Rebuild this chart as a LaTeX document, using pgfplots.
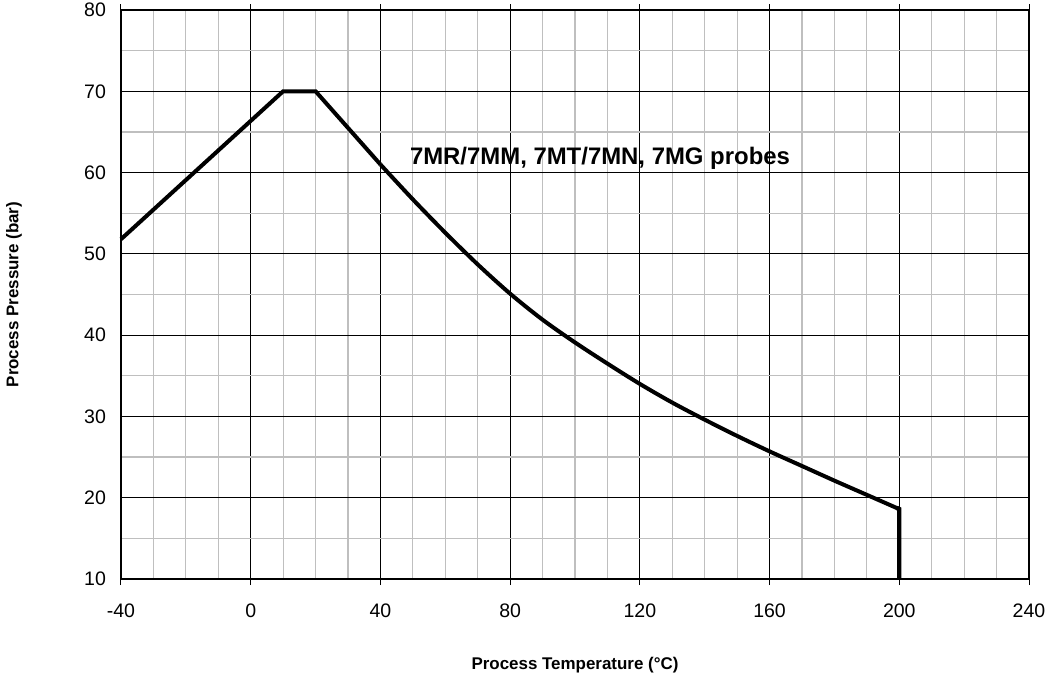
\documentclass[border=0pt]{standalone}
\usepackage{fontspec}
\setmainfont{Liberation Sans}
\usepackage{pgfplots}
\pgfplotsset{compat=1.18}
\begin{document}
\begin{tikzpicture}
\useasboundingbox (-60.5bp,-50.5bp) rectangle (462bp,289.5bp);
\begin{axis}[
  at={(0,0)}, anchor=south west,
  scale only axis,
  width=454bp, height=284.5bp,
  xmin=-40, xmax=240, ymin=10, ymax=80,
  xtick={-40,0,...,240}, ytick={10,20,...,80},
  minor x tick num=3, minor y tick num=1,
  grid=both,
  major grid style={black, line width=0.5bp},
  minor grid style={gray!50, line width=0.6bp},
  axis line style={black, line width=0.6bp},
  tick align=outside, major tick length=3bp,
  minor tick length=0pt,
  ytick style={draw=none},
  xtick style={black, line width=0.5bp},
  tick label style={font=\fontsize{9.8}{11}\selectfont},
  /pgf/number format/assume math mode=true,
  xticklabel style={yshift=-6bp},
  yticklabel style={xshift=-1bp},
  xlabel={\bfseries Process Temperature (°C)},
  ylabel={\bfseries Process Pressure (bar)},
  label style={font=\fontsize{8.5}{10}\selectfont},
  xlabel style={at={(axis description cs:0.5,-0.151)}, anchor=center},
  ylabel style={at={(axis description cs:-0.1178,0.5)}, anchor=center},
  clip=false,
]
\addplot[black, line width=2bp, line join=miter] coordinates {
(-40,51.8) (10,70) (20,70) (30,65.5) (40,61.0)
};
\addplot[black, line width=2bp, smooth, tension=0.5] coordinates {
(40,61.0) (50,56.7) (60,52.6) (70,48.7) (80,45.1) (90,41.9) (100,39.1)
(110,36.5) (120,34.0) (130,31.7) (140,29.6) (150,27.6) (160,25.7)
(170,23.9) (180,22.1) (190,20.35) (200,18.6)
};
\addplot[black, line width=2.2bp, line join=miter] coordinates {
(199.2,18.75) (200,18.6) (200,10)
};
\node[anchor=west, font=\bfseries\fontsize{12}{14}\selectfont, inner sep=0pt] at (axis cs:49,61.7) {7MR/7MM, 7MT/7MN, 7MG probes};
\end{axis}
\end{tikzpicture}
\end{document}
